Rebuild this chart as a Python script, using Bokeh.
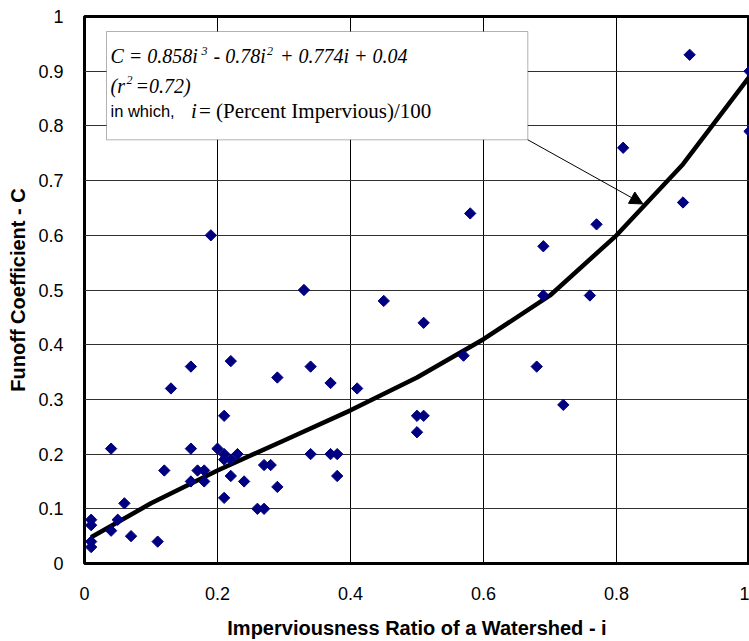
import math
from bokeh.plotting import figure
from bokeh.models import Label, BoxAnnotation, Arrow, NormalHead, FixedTicker, Range1d
from bokeh.embed import file_html
from bokeh.resources import INLINE

# Observed data: imperviousness ratio (i) and runoff coefficient (C)
imperv = [0.33, 0.45, 0.51, 0.16, 0.22, 0.13, 0.29, 0.34, 0.37, 0.41,
          0.21, 0.50, 0.51, 0.50, 0.04, 0.16, 0.20, 0.21, 0.23, 0.34,
          0.37, 0.38, 0.21, 0.22, 0.27, 0.28, 0.17, 0.18, 0.12, 0.22,
          0.38, 0.16, 0.18, 0.24, 0.29, 0.21, 0.06, 0.26, 0.27, 0.01,
          0.01, 0.05, 0.04, 0.07, 0.11, 0.01, 0.01, 0.57, 0.69, 0.76,
          0.68, 0.72, 0.91, 1.00, 1.00, 0.81, 0.90, 0.58, 0.77, 0.69,
          0.19]
runoff = [0.50, 0.48, 0.44, 0.36, 0.37, 0.32, 0.34, 0.36, 0.33, 0.32,
          0.27, 0.27, 0.27, 0.24, 0.21, 0.21, 0.21, 0.20, 0.20, 0.20,
          0.20, 0.20, 0.19, 0.19, 0.18, 0.18, 0.17, 0.17, 0.17, 0.16,
          0.16, 0.15, 0.15, 0.15, 0.14, 0.12, 0.11, 0.10, 0.10, 0.08,
          0.07, 0.08, 0.06, 0.05, 0.04, 0.04, 0.03, 0.38, 0.49, 0.49,
          0.36, 0.29, 0.93, 0.90, 0.79, 0.76, 0.66, 0.64, 0.62, 0.58,
          0.60]

# Fitted curve
fit_i = [0.01, 0.1, 0.2, 0.3, 0.4, 0.5, 0.6, 0.7, 0.8, 0.9, 1.0]
fit_c = [0.048, 0.11, 0.17, 0.225, 0.28, 0.34, 0.41, 0.49, 0.60, 0.73, 0.89]

x_ticks = [0, 0.2, 0.4, 0.6, 0.8, 1]
x_tick_labels = ["0", "0.2", "0.4", "0.6", "0.8", "1"]
y_ticks = [0, 0.1, 0.2, 0.3, 0.4, 0.5, 0.6, 0.7, 0.8, 0.9, 1]
y_tick_labels = ["0", "0.1", "0.2", "0.3", "0.4", "0.5", "0.6", "0.7", "0.8", "0.9", "1"]

FRAME_L, FRAME_T, FRAME_W, FRAME_H = 84, 16, 665, 547  # canvas pixels


def dx(px):
    return (px - FRAME_L) / FRAME_W


def dy(py):
    return (FRAME_T + FRAME_H - py) / FRAME_H


p = figure(frame_width=FRAME_W, frame_height=FRAME_H,
           x_range=Range1d(0, 1), y_range=Range1d(0, 1),
           output_backend="svg", toolbar_location=None,
           min_border_left=FRAME_L, min_border_right=0, min_border_top=FRAME_T,
           min_border_bottom=78)
p.background_fill_color = "white"
p.border_fill_color = "white"
p.outline_line_color = "black"
p.outline_line_width = 3

p.xaxis.ticker = FixedTicker(ticks=x_ticks)
p.yaxis.ticker = FixedTicker(ticks=y_ticks)
p.xaxis.major_label_overrides = {t: l for t, l in zip(x_ticks, x_tick_labels)}
p.yaxis.major_label_overrides = {t: l for t, l in zip(y_ticks, y_tick_labels)}
for ax in (p.xaxis, p.yaxis):
    ax.axis_line_color = None
    ax.major_tick_line_color = None
    ax.minor_tick_line_color = None
    ax.major_label_text_font = "Liberation Sans"
    ax.major_label_text_font_size = "18px"
    ax.major_label_text_color = "black"
    ax.axis_label_text_font = "Liberation Sans"
    ax.axis_label_text_font_style = "bold"
    ax.axis_label_text_font_size = "20px"
    ax.axis_label_text_color = "black"
p.xaxis.major_label_standoff = 17
p.yaxis.major_label_standoff = 15

p.xaxis.axis_label = "Imperviousness Ratio of a Watershed - i"
p.xaxis.axis_label_standoff = 14
p.yaxis.axis_label = "Funoff Coefficient - C"
p.yaxis.axis_label_standoff = 6

p.xgrid.grid_line_color = "black"
p.ygrid.grid_line_color = "#303030"
p.xgrid.grid_line_width = 1
p.ygrid.grid_line_width = 1

p.line(fit_i, fit_c, line_color="black", line_width=4.5)
p.scatter(imperv, runoff, marker="square", angle=math.pi / 4, size=8,
          fill_color="#000080", line_color="#000080")

# Equation box
box = BoxAnnotation(left=dx(106), right=dx(527.3), top=dy(31), bottom=dy(139.3),
                    fill_color="white", fill_alpha=1.0, line_color="black",
                    line_width=1)
p.add_layout(box)


def lab(px, py, text, font="Liberation Serif", style="italic", size="20px"):
    p.add_layout(Label(x=dx(px), y=dy(py), text=text, text_font=font,
                       text_font_style=style, text_font_size=size,
                       text_color="black", text_align="left",
                       text_baseline="alphabetic"))


lab(110, 55, "C = 0.858i")
lab(201, 50, "3", size="12px")
lab(213, 55, "- 0.78i")
lab(266.5, 50, "2", size="12px")
lab(279.5, 55, "+ 0.774i + 0.04")
lab(110, 85, "(r")
lab(126, 79, "2", size="12px")
lab(135, 85, "=0.72)")
lab(110, 110, "in which,", font="Liberation Sans", style="normal", size="16.5px")
lab(190.5, 110, "i", size="21px")
lab(198.5, 110, "= (Percent Impervious)/100", style="normal", size="21px")

p.add_layout(Arrow(end=NormalHead(size=13, fill_color="black", line_color="black"),
                   x_start=dx(527.3), y_start=dy(139.3),
                   x_end=dx(642.5), y_end=dy(203.5),
                   line_color="black", line_width=1))

open("out.html", "w").write(file_html(p, INLINE))
